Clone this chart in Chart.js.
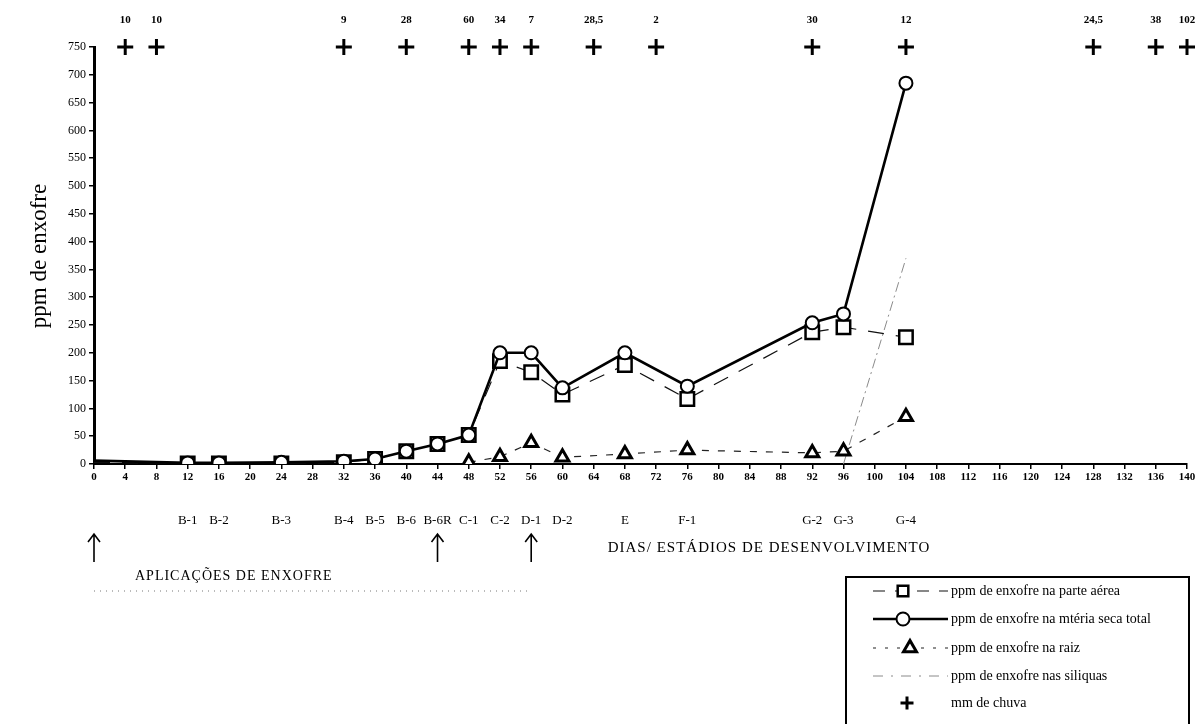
<!DOCTYPE html>
<html>
<head>
<meta charset="utf-8">
<script src="https://cdn.jsdelivr.net/npm/chart.js@4.4.0/dist/chart.umd.min.js"></script>
<style>
body { margin: 0; background: #fff; }
</style>
</head>
<body>
<canvas id="grafico" width="1202" height="724"></canvas>
<script>
// dias apos o plantio e ppm de enxofre
const diasAerea = [0, 12, 16, 24, 32, 36, 40, 44, 48, 52, 56, 60, 68, 76, 92, 96, 104];
const ppmAerea = [3, 1, 1, 1, 3, 9, 23, 36, 52, 185, 165, 125, 178, 117, 237, 246, 228];

const diasTotal = [0, 12, 16, 24, 32, 36, 40, 44, 48, 52, 56, 60, 68, 76, 92, 96, 104];
const ppmTotal = [6, 2, 2, 3, 5, 9, 23, 36, 52, 200, 200, 137, 200, 140, 254, 270, 685];

const diasRaiz = [48, 52, 56, 60, 68, 76, 92, 96, 104];
const ppmRaiz = [3, 13, 38, 12, 18, 25, 20, 23, 85];

const diasSiliquas = [96, 104];
const ppmSiliquas = [0, 370];

// chuva (mm)
const diasChuva = [4, 8, 32, 40, 48, 52, 56, 64, 72, 92, 104, 128, 136, 140];
const mmChuva = [10, 10, 9, 28, 60, 34, 7, 28.5, 2, 30, 12, 24.5, 38, 102];

// estadios de desenvolvimento
const diasEstadio = [12, 16, 24, 32, 36, 40, 44, 48, 52, 56, 60, 68, 76, 92, 96, 104];
const nomesEstadio = ['B-1', 'B-2', 'B-3', 'B-4', 'B-5', 'B-6', 'B-6R', 'C-1', 'C-2', 'D-1', 'D-2', 'E', 'F-1', 'G-2', 'G-3', 'G-4'];

// aplicacoes de enxofre
const diasAplicacao = [0, 44, 56];

const Y_MAX = 750;
const SERIF = '"Liberation Serif", "Times New Roman", serif';

function pares(xs, ys) {
    return xs.map((d, i) => ({ x: d, y: ys[i] }));
}

const estilos = {
    aerea: { pointStyle: 'rect', radius: 9.5, borderWidth: 2.5, dash: [16, 12], lineWidth: 1.2, color: '#111' },
    total: { pointStyle: 'circle', radius: 6.5, borderWidth: 2, dash: [], lineWidth: 2.6, color: '#000' },
    raiz: { pointStyle: 'triangle', radius: 7.5, borderWidth: 3, dash: [7, 9], lineWidth: 1.2, color: '#222' },
    siliquas: { dash: [10, 4, 2, 4], lineWidth: 1, color: '#8a8a8a' },
    chuva: { pointStyle: 'cross', radius: 8, borderWidth: 3, color: '#000' }
};

const anotacoes = {
    id: 'anotacoes',
    afterDraw(chart) {
        const ctx = chart.ctx;
        const sx = chart.scales.x;
        const temEspaco = 'letterSpacing' in ctx;
        ctx.save();
        ctx.fillStyle = '#000';
        ctx.strokeStyle = '#000';

        // valores de chuva
        ctx.font = 'bold 11px ' + SERIF;
        ctx.textAlign = 'center';
        ctx.textBaseline = 'middle';
        diasChuva.forEach((d, i) => {
            ctx.fillText(String(mmChuva[i]).replace('.', ','), sx.getPixelForValue(d), 20);
        });

        // estadios
        ctx.font = '13px ' + SERIF;
        diasEstadio.forEach((d, i) => {
            ctx.fillText(nomesEstadio[i], sx.getPixelForValue(d), 521);
        });

        ctx.font = '15px ' + SERIF;
        if (temEspaco) ctx.letterSpacing = '1px';
        ctx.fillText('DIAS/ ESTÁDIOS DE DESENVOLVIMENTO', 769, 548);
        if (temEspaco) ctx.letterSpacing = '0px';

        // titulo do eixo y
        ctx.save();
        ctx.translate(40, 256);
        ctx.rotate(-Math.PI / 2);
        ctx.font = '23px ' + SERIF;
        ctx.fillText('ppm de enxofre', 0, 0);
        ctx.restore();

        // setas das aplicacoes
        ctx.lineWidth = 1.6;
        diasAplicacao.forEach(d => {
            const x = sx.getPixelForValue(d);
            ctx.beginPath();
            ctx.moveTo(x, 562);
            ctx.lineTo(x, 534);
            ctx.moveTo(x - 6, 542);
            ctx.lineTo(x, 534);
            ctx.lineTo(x + 6, 542);
            ctx.stroke();
        });
        ctx.textAlign = 'left';
        ctx.font = '14px ' + SERIF;
        if (temEspaco) ctx.letterSpacing = '1px';
        ctx.fillText('APLICAÇÕES DE ENXOFRE', 135, 576);
        if (temEspaco) ctx.letterSpacing = '0px';
        ctx.lineWidth = 1;
        ctx.setLineDash([1, 5]);
        ctx.strokeStyle = '#777';
        ctx.beginPath();
        ctx.moveTo(sx.getPixelForValue(0), 591);
        ctx.lineTo(sx.getPixelForValue(56), 591);
        ctx.stroke();
        ctx.setLineDash([]);

        // legenda
        ctx.strokeStyle = '#000';
        ctx.lineWidth = 2;
        ctx.strokeRect(846, 577, 343, 150);
        const itens = [
            { nome: 'ppm de enxofre na parte aérea', est: estilos.aerea, y: 591, lx: 903, dash: [12, 10] },
            { nome: 'ppm de enxofre na mtéria seca total', est: estilos.total, y: 619, lx: 903, dash: [] },
            { nome: 'ppm de enxofre na raiz', est: estilos.raiz, y: 648, lx: 910, dash: [3, 9] },
            { nome: 'ppm de enxofre nas siliquas', est: estilos.siliquas, y: 676, lx: 0, dash: [10, 8, 2, 8] },
            { nome: 'mm de chuva', est: estilos.chuva, y: 703, lx: 907, dash: null }
        ];
        ctx.font = '14px ' + SERIF;
        ctx.textBaseline = 'middle';
        itens.forEach(it => {
            const e = it.est;
            if (it.dash) {
                ctx.strokeStyle = e.color;
                ctx.lineWidth = e.lineWidth;
                ctx.setLineDash(it.dash);
                ctx.beginPath();
                ctx.moveTo(873, it.y);
                ctx.lineTo(948, it.y);
                ctx.stroke();
                ctx.setLineDash([]);
            }
            if (e.pointStyle) {
                ctx.strokeStyle = '#000';
                ctx.fillStyle = '#fff';
                ctx.lineWidth = e.borderWidth;
                let r = e.radius;
                if (e.pointStyle === 'rect') r = 7.5;
                if (e.pointStyle === 'cross') r = 6.5;
                Chart.helpers.drawPoint(ctx, { pointStyle: e.pointStyle, radius: r, rotation: 0, borderWidth: e.borderWidth }, it.lx, it.y);
            }
            ctx.fillStyle = '#000';
            ctx.textAlign = 'left';
            ctx.fillText(it.nome, 951, it.y);
        });
        ctx.restore();
    }
};

new Chart(document.getElementById('grafico'), {
    type: 'line',
    data: {
        datasets: [
            {
                label: 'ppm de enxofre na parte aérea',
                data: pares(diasAerea, ppmAerea),
                borderColor: estilos.aerea.color,
                borderWidth: estilos.aerea.lineWidth,
                borderDash: estilos.aerea.dash,
                pointStyle: estilos.aerea.pointStyle,
                pointRadius: diasAerea.map(d => d === 0 ? 0 : estilos.aerea.radius),
                pointBorderWidth: estilos.aerea.borderWidth,
                pointBorderColor: '#000',
                pointBackgroundColor: '#fff',
                tension: 0,
                order: 3
            },
            {
                label: 'ppm de enxofre na mtéria seca total',
                data: pares(diasTotal, ppmTotal),
                borderColor: estilos.total.color,
                borderWidth: estilos.total.lineWidth,
                pointStyle: estilos.total.pointStyle,
                pointRadius: diasTotal.map(d => d === 0 ? 0 : estilos.total.radius),
                pointBorderWidth: estilos.total.borderWidth,
                pointBorderColor: '#000',
                pointBackgroundColor: '#fff',
                tension: 0,
                order: 2
            },
            {
                label: 'ppm de enxofre na raiz',
                data: pares(diasRaiz, ppmRaiz),
                borderColor: estilos.raiz.color,
                borderWidth: estilos.raiz.lineWidth,
                borderDash: estilos.raiz.dash,
                pointStyle: estilos.raiz.pointStyle,
                pointRadius: estilos.raiz.radius,
                pointBorderWidth: estilos.raiz.borderWidth,
                pointBorderColor: '#000',
                pointBackgroundColor: '#fff',
                tension: 0,
                order: 1
            },
            {
                label: 'ppm de enxofre nas siliquas',
                data: pares(diasSiliquas, ppmSiliquas),
                borderColor: estilos.siliquas.color,
                borderWidth: estilos.siliquas.lineWidth,
                borderDash: estilos.siliquas.dash,
                pointRadius: 0,
                tension: 0,
                order: 4
            },
            {
                label: 'mm de chuva',
                data: diasChuva.map(d => ({ x: d, y: Y_MAX })),
                showLine: false,
                pointStyle: estilos.chuva.pointStyle,
                pointRadius: estilos.chuva.radius,
                pointBorderWidth: estilos.chuva.borderWidth,
                pointBorderColor: '#000',
                clip: false,
                order: 0
            }
        ]
    },
    options: {
        responsive: false,
        animation: false,
        layout: { padding: { left: 0, right: 15, top: 47, bottom: 238 } },
        plugins: {
            legend: { display: false },
            tooltip: { enabled: false }
        },
        scales: {
            x: {
                type: 'linear',
                min: 0,
                max: 140,
                ticks: {
                    stepSize: 4,
                    autoSkip: false,
                    maxRotation: 0,
                    color: '#000',
                    padding: 2,
                    font: { family: SERIF, size: 11, weight: 'bold' }
                },
                grid: { drawOnChartArea: false, drawTicks: true, tickLength: 5, color: '#000', lineWidth: 1.5 },
                border: { display: true, color: '#000', width: 2 },
                afterFit(scale) {
                    scale.height = 22;
                    scale.paddingLeft = 0;
                    scale.paddingRight = 0;
                }
            },
            y: {
                min: 0,
                max: Y_MAX,
                ticks: {
                    stepSize: 50,
                    color: '#000',
                    padding: 3,
                    font: { family: SERIF, size: 12 }
                },
                grid: { drawOnChartArea: false, drawTicks: true, tickLength: 5, color: '#000', lineWidth: 1.5 },
                border: { display: true, color: '#000', width: 3 },
                afterFit(scale) {
                    scale.width = 94;
                    scale.paddingTop = 0;
                    scale.paddingBottom = 0;
                }
            }
        }
    },
    plugins: [anotacoes]
});
</script>
</body>
</html>
